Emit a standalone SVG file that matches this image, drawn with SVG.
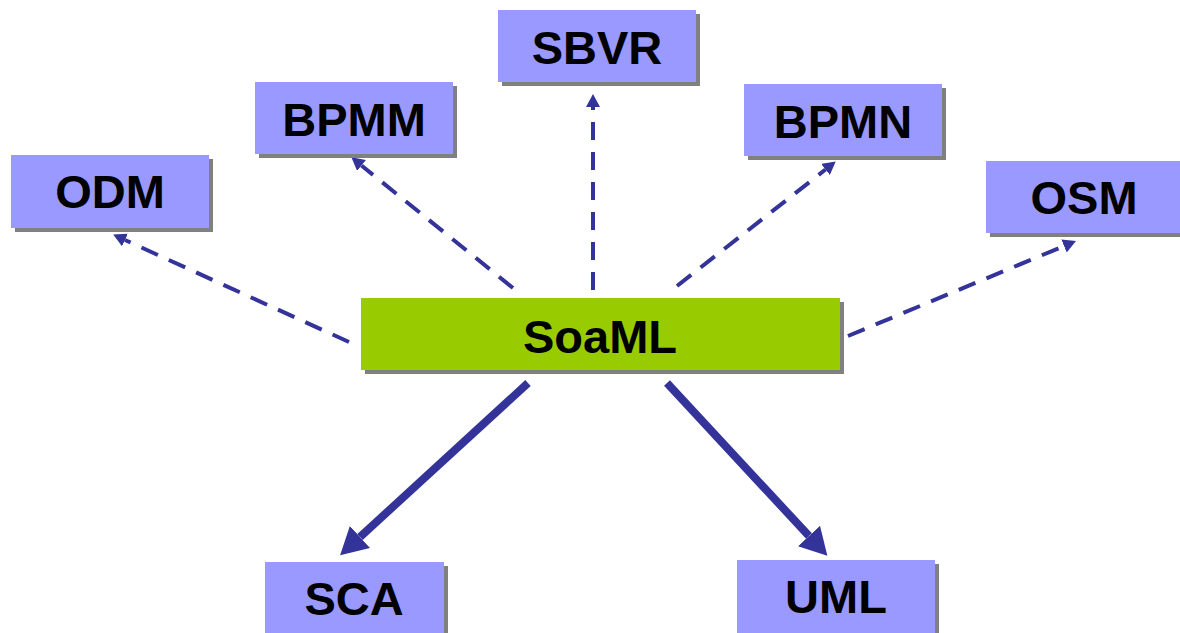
<svg xmlns="http://www.w3.org/2000/svg" width="1180" height="633" viewBox="0 0 1180 633">
<style>
.shadow{fill:#808080}
.box{fill:#9999ff}
.main{fill:#99cc00}
.lbl{font-family:"Liberation Sans",Arial,sans-serif;font-weight:bold;font-size:47px;fill:#000;text-anchor:middle}
.dash{stroke:#333399;stroke-width:4;fill:none;stroke-dasharray:18 12}
.solid{stroke:#333399;stroke-width:8;fill:none}
</style>
<defs>
<marker id="ah" markerUnits="userSpaceOnUse" markerWidth="14" markerHeight="14" refX="0" refY="7" orient="auto">
<path d="M0,0 L13,7 L0,14 z" fill="#333399"/>
</marker>
<marker id="ahb" markerUnits="userSpaceOnUse" markerWidth="28" markerHeight="30" refX="0" refY="15" orient="auto">
<path d="M0,0 L27,15 L0,30 z" fill="#333399"/>
</marker>
</defs>
<g id="connectors">
<line class="dash" x1="349" y1="342" x2="125" y2="240" marker-end="url(#ah)"/>
<line class="dash" x1="513" y1="288" x2="361.5" y2="165.5" marker-end="url(#ah)"/>
<line class="dash" x1="593" y1="290" x2="593" y2="107" marker-end="url(#ah)"/>
<line class="dash" x1="677" y1="286" x2="825.5" y2="169.5" marker-end="url(#ah)"/>
<line class="dash" x1="848" y1="336" x2="1064" y2="246" marker-end="url(#ah)"/>
<line class="solid" x1="528" y1="383" x2="360" y2="537" marker-end="url(#ahb)"/>
<line class="solid" x1="667" y1="383" x2="809" y2="536" marker-end="url(#ahb)"/>
</g>
<g id="ODM">
<rect class="shadow" x="15" y="159" width="198" height="73"/>
<rect class="box" x="11" y="155" width="198" height="73"/>
<text class="lbl" x="110" y="208">ODM</text>
</g>
<g id="BPMM">
<rect class="shadow" x="259" y="86" width="198" height="72"/>
<rect class="box" x="255" y="82" width="198" height="72"/>
<text class="lbl" x="354" y="136">BPMM</text>
</g>
<g id="SBVR">
<rect class="shadow" x="502" y="14" width="198" height="72"/>
<rect class="box" x="498" y="10" width="198" height="72"/>
<text class="lbl" x="597" y="64">SBVR</text>
</g>
<g id="BPMN">
<rect class="shadow" x="748" y="88" width="198" height="72"/>
<rect class="box" x="744" y="84" width="198" height="72"/>
<text class="lbl" x="843" y="138">BPMN</text>
</g>
<g id="OSM">
<rect class="shadow" x="990" y="165" width="198" height="72"/>
<rect class="box" x="986" y="161" width="198" height="72"/>
<text class="lbl" x="1084" y="214">OSM</text>
</g>
<g id="SoaML">
<rect class="shadow" x="365" y="302" width="479" height="72"/>
<rect class="main" x="361" y="298" width="479" height="72"/>
<text class="lbl" x="600" y="353">SoaML</text>
</g>
<g id="SCA">
<rect class="shadow" x="269" y="566" width="179" height="73"/>
<rect class="box" x="265" y="562" width="179" height="73"/>
<text class="lbl" x="354" y="615">SCA</text>
</g>
<g id="UML">
<rect class="shadow" x="741" y="564" width="198" height="73"/>
<rect class="box" x="737" y="560" width="198" height="73"/>
<text class="lbl" x="836" y="613">UML</text>
</g>
</svg>
